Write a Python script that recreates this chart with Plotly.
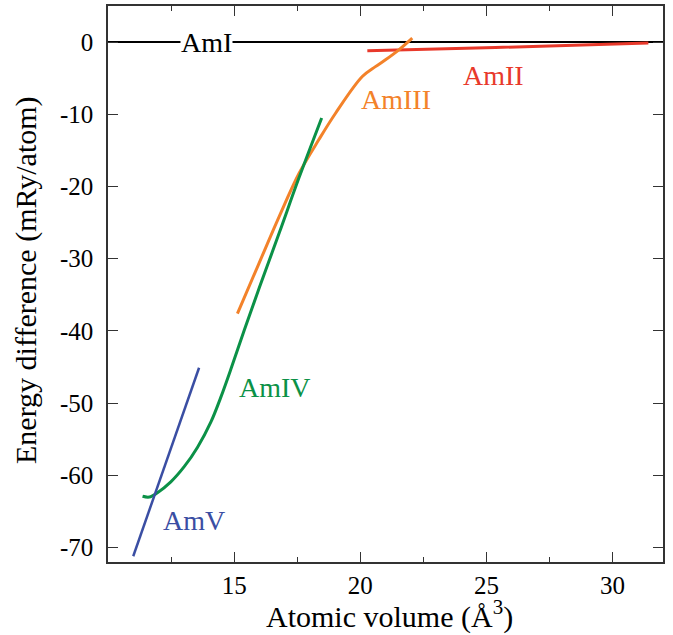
import plotly.graph_objects as go

# ---- data ----
amI_x = [10, 32]
amI_y = [0, 0]

amII_x = [20.28, 25.36, 31.42]
amII_y = [-1.2, -0.75, -0.14]

amIII_x = [15.13, 15.99, 16.78, 17.57, 18.36, 19.02, 20.08, 20.6, 21.0, 21.53, 22.06]
amIII_y = [-37.6, -30.6, -24.2, -18.2, -13.5, -9.85, -4.77, -3.4, -2.45, -1.07, 0.55]

amIV_x = [11.37, 11.64, 11.96, 12.49, 13.02, 13.55, 14.08, 14.47, 14.9, 15.4, 16.0, 16.8, 17.57, 18.47]
amIV_y = [-62.9, -63.0, -62.4, -60.9, -58.8, -56.1, -52.6, -49.2, -45.0, -39.9, -34.0, -26.3, -18.8, -10.5]

amV_x = [11.0, 13.61]
amV_y = [-71.2, -45.1]

x_ticks = [15, 20, 25, 30]
x_minor = [12.5, 17.5, 22.5, 27.5]
y_ticks = [0, -10, -20, -30, -40, -50, -60, -70]
y_ticktext = ["0", "-10", "-20", "-30", "-40", "-50", "-60", "-70"]

labels = ["AmI", "AmII", "AmIII", "AmIV", "AmV"]
label_x = [13.9, 25.3, 21.4, 16.6, 13.4]
label_y = [0, -4.6, -8.0, -47.8, -66.2]
colors = ["#000000", "#e8392b", "#f3822a", "#0b9147", "#3a4ea3"]

FONT = "Liberation Serif, Times New Roman, serif"

fig = go.Figure()
series = [(amI_x, amI_y), (amII_x, amII_y), (amIII_x, amIII_y), (amIV_x, amIV_y), (amV_x, amV_y)]
widths = [2, 3, 3, 3, 2.5]
for (sx, sy), c, w, name in zip(series, colors, widths, labels):
    fig.add_trace(go.Scatter(x=sx, y=sy, mode="lines", name=name,
                             line=dict(color=c, width=w, shape="spline", smoothing=1.0),
                             showlegend=False))

for t, lx, ly, c in zip(labels, label_x, label_y, colors):
    fig.add_annotation(x=lx, y=ly, text=t, showarrow=False,
                       font=dict(family=FONT, size=28, color=c),
                       bgcolor="white" if t == "AmI" else "rgba(0,0,0,0)",
                       borderpad=0)

# axis titles
fig.add_annotation(xref="paper", yref="paper", x=0.508, y=-0.095, xanchor="center", yanchor="middle",
                   text="Atomic volume (Å<sup>3</sup>)", showarrow=False,
                   font=dict(family=FONT, size=30, color="black"))
fig.add_annotation(xref="paper", yref="paper", x=-0.148, y=0.507, xanchor="center", yanchor="middle",
                   text="Energy difference (mRy/atom)", showarrow=False, textangle=-90,
                   font=dict(family=FONT, size=30, color="black"))

axis_common = dict(showgrid=False, zeroline=False, showline=True, linecolor="#333333",
                   linewidth=1.5, mirror="ticks", ticks="inside", ticklen=10,
                   tickwidth=1.3, tickcolor="#333333", automargin=False,
                   tickfont=dict(family=FONT, size=25, color="black"))

fig.update_xaxes(range=[10, 32], tickvals=x_ticks, ticktext=[str(v) for v in x_ticks],
                 minor=dict(tickvals=x_minor, ticklen=5, ticks="inside",
                            tickcolor="#333333", tickwidth=1.3),
                 **axis_common)
fig.update_yaxes(range=[-72, 5], tickvals=y_ticks, ticktext=y_ticktext,
                 ticklabelstandoff=8,
                 **axis_common)

fig.update_layout(width=673, height=635, plot_bgcolor="white", paper_bgcolor="white",
                  margin=dict(l=108, r=10, t=6, b=73))

fig.write_html("out.html", config={"displayModeBar": False},
               post_script="document.body.style.margin='0';document.body.style.overflow='hidden';")
